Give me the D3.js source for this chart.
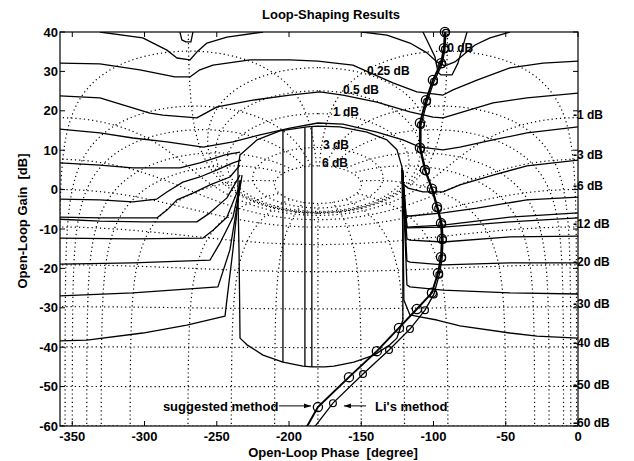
<!DOCTYPE html>
<html>
<head>
<meta charset="utf-8">
<script src="https://cdn.jsdelivr.net/npm/d3@7"></script>
<style>
  body { margin: 0; background: #fff; }
  text { font-family: "Liberation Sans", Arial, Helvetica, sans-serif; font-weight: bold; fill: #000; }
</style>
</head>
<body>
<div id="root"></div>
<script>
const SVG_WIDTH = 634;
const SVG_HEIGHT = 461;

// Nichols grid levels: closed-loop magnitude [dB] and closed-loop phase [deg]
const mLevels = [6, 3, 1, 0.5, 0.25, 0, -1, -3, -6, -12, -20, -30, -40, -50, -60];
const phaseLevels = [-1, -5, -10, -20, -30, -50, -90, -120, -150, -180,
  -210, -240, -270, -310, -330, -340, -350, -355, -359];

const xTicks = [-350, -300, -250, -200, -150, -100, -50, 0];
const yTicks = [40, 30, 20, 10, 0, -10, -20, -30, -40, -50, -60];

// grid labels (text, phase, gain)
const topLabelText = ['0 dB', '0.25 dB', '0.5 dB', '1 dB', '3 dB', '6 dB'];
const topLabelPhase = [-90.5, -146.1, -162.7, -169.6, -176.5, -177.2];
const topLabelGain = [36.0, 30.1, 25.3, 19.7, 11.3, 6.8];
const rightLabelText = ['-1 dB', '-3 dB', '-6 dB', '-12 dB', '-20 dB', '-30 dB', '-40 dB', '-50 dB', '-60 dB'];
const rightLabelGain = [18.9, 8.8, 0.9, -8.7, -18.4, -29.0, -38.9, -49.6, -59.2];

// QFT bounds [phase, gain]
const boundU = [[-275.5, 40], [-274.2, 38.0], [-271.4, 37.5], [-267.9, 37.5], [-266.5, 40]];
const boundV = [[-107.3, 40], [-99.0, 33.7], [-96.9, 29.8], [-94.8, 29.1], [-87.2, 29.1], [-83.1, 32.1], [-76.8, 40]];
const bound1L = [[-330.9, 40], [-301.2, 38.5], [-284.5, 35.4], [-277.6, 33.4], [-268.6, 32.9], [-263.8, 34.9], [-256.8, 37.2], [-243.0, 38.7], [-218.0, 40]];
const bound1R = [[-149.5, 40], [-132.2, 39.2], [-116.3, 37.2], [-104.5, 34.7], [-97.6, 32.4], [-92.1, 31.4], [-85.2, 32.4], [-71.3, 36.7], [-60.9, 38.5], [-47.1, 40]];
const bound2 = [[-360, 32.1], [-330.9, 31.9], [-303.2, 30.4], [-285.9, 29.1], [-279.0, 28.6], [-268.6, 28.6], [-261.7, 30.4], [-252.6, 31.6], [-227.0, 32.9], [-199.4, 32.9], [-180, 32.6], [-155.8, 31.6], [-128.1, 27.1], [-111.5, 24.8], [-93.4, 24.0], [-86.5, 25.3], [-69.9, 27.8], [-47.1, 30.9], [-24.2, 32.1], [0, 32.6]];
const bound3 = [[-360, 23.8], [-330.9, 23.3], [-296.3, 19.4], [-287.3, 18.9], [-263.8, 18.2], [-249.8, 21.0], [-225.0, 22.7], [-199.4, 24.0], [-178.6, 24.8], [-162.7, 24.0], [-139.2, 22.2], [-116.3, 19.7], [-100.4, 18.4], [-93.4, 18.2], [-79.6, 19.7], [-58.8, 22.0], [-35.3, 23.3], [0, 24.5]];
const bound4 = [[-360, 15.4], [-330.9, 14.4], [-308.1, 13.1], [-284.5, 12.1], [-259.5, 10.8], [-238.8, 12.1], [-220.1, 13.9], [-199.4, 15.6], [-180, 16.9], [-162.7, 16.6], [-139.2, 14.6], [-121.2, 12.6], [-109.4, 10.8], [-93.4, 10.1], [-81.7, 10.8], [-58.8, 12.6], [-35.3, 14.4], [0, 15.9]];
const boundCup = [[-184.2, -45.0], [-190.4, -44.8], [-204.2, -43.8], [-218.0, -42.0], [-229.1, -39.4], [-233.9, -37.7], [-234.6, -15.3], [-235.3, -2.6], [-235.3, 5.7], [-233.9, 8.8], [-222.2, 12.6], [-206.3, 14.9], [-187.6, 15.9], [-180, 16.1], [-164.8, 15.9], [-146.1, 14.6], [-132.2, 12.6], [-125.3, 10.1], [-121.8, 5.7], [-121.2, -15.3], [-121.2, -33.1], [-125.3, -37.7], [-130.2, -39.4], [-141.2, -42.0], [-155.1, -43.8], [-168.9, -44.8], [-175.2, -45.0], [-184.2, -45.0]];
const boundBar1 = [[-204.2, 15.1], [-204.2, -43.8]];
const boundBar2 = [[-189.0, 15.9], [-189.0, -44.8]];
const boundBar3 = [[-184.2, 16.1], [-184.2, -45.0]];
const fanL1 = [[-360, 6.8], [-330.9, 6.2], [-308.1, 5.5], [-275.5, 5.5], [-261.7, 6.8], [-244.3, 8.8], [-233.9, 9.5]];
const fanL2 = [[-360, -2.4], [-330.9, -2.6], [-308.1, -3.1], [-291.5, -2.4], [-284.5, -0.6], [-273.5, 1.9], [-261.7, 3.2], [-249.8, 5.0], [-238.8, 6.8], [-233.2, 7.5]];
const fanL3 = [[-360, -7.0], [-330.9, -7.2], [-291.5, -7.2], [-284.5, -5.2], [-277.6, -2.6], [-266.5, -0.9], [-254.7, 1.2], [-240.9, 3.2], [-233.9, 6.2]];
const fanL4 = [[-360, -7.5], [-330.9, -8.0], [-301.2, -8.2], [-263.8, -8.2], [-254.7, -5.9], [-243.0, -2.1], [-233.9, 3.7]];
const fanL5 = [[-360, -12.3], [-308.1, -12.5], [-259.5, -12.3], [-252.6, -10.3], [-243.0, -7.0], [-233.9, 1.2]];
const fanL6 = [[-360, -18.9], [-308.1, -18.6], [-254.7, -17.9], [-247.8, -13.6], [-238.8, -7.0], [-233.2, 2.4]];
const fanL7 = [[-360, -27.0], [-308.1, -26.2], [-249.2, -24.7], [-240.9, -15.3], [-232.5, 3.7]];
const fanL8 = [[-360, -38.4], [-339.9, -38.2], [-301.2, -36.4], [-270.7, -34.4], [-244.3, -32.1], [-243.0, -28.0], [-238.8, -15.3], [-233.9, 2.4]];
const fanR1 = [[0, 7.5], [-35.3, 6.0], [-58.8, 3.7], [-81.7, 1.2], [-93.4, -0.6], [-107.3, -0.6], [-117.7, 0.4], [-121.8, 1.7], [-121.8, 5.5]];
const fanR2 = [[0, -1.9], [-35.3, -2.6], [-69.9, -4.7], [-93.4, -5.9], [-116.3, -6.7], [-120.5, -6.7], [-121.5, 5.0]];
const fanR3 = [[0, -5.9], [-47.1, -7.0], [-93.4, -9.0], [-118.4, -9.5], [-121.5, 5.0]];
const fanR4 = [[0, -7.2], [-47.1, -8.2], [-93.4, -9.5], [-118.4, -9.7], [-121.5, 5.0]];
const fanR5 = [[0, -11.8], [-47.1, -12.0], [-93.4, -13.3], [-116.3, -12.8], [-118.4, -12.5], [-121.5, 5.0]];
const fanR6 = [[0, -18.6], [-47.1, -18.6], [-93.4, -19.1], [-116.3, -18.4], [-118.4, -18.1], [-121.5, 5.0]];
const fanR7 = [[0, -26.5], [-47.1, -26.2], [-93.4, -25.5], [-116.3, -24.7], [-118.4, -24.2], [-121.5, 5.0]];
const fanR8 = [[0, -37.7], [-28.4, -37.2], [-47.1, -36.4], [-81.7, -34.6], [-97.6, -33.1], [-109.4, -32.3], [-116.3, -31.8], [-120.5, -28.0], [-121.5, 5.0]];

// open-loop designs
const suggestedPhase = [-192, -180.0, -158.5, -139.2, -123.9, -111.5, -101.1, -96.9, -94.8, -94.2, -94.8, -97.6, -101.1, -105.9, -109.4, -109.4, -105.2, -100.4, -94.8, -92.8, -92.1];
const suggestedGain = [-63, -55.2, -47.6, -41.0, -35.1, -30.3, -26.2, -21.2, -17.1, -12.5, -8.5, -4.4, 0.2, 5.0, 10.6, 16.9, 22.7, 27.8, 32.1, 35.9, 40.0];
const liPhase = [-186, -169.6, -148.8, -130.8, -116.3, -105.9, -99.8, -96.0, -94.0, -93.4, -94.0, -96.8, -100.4, -105.2, -108.7, -108.7, -104.5, -99.7, -94.1, -92.1, -91.4];
const liGain = [-62, -54.2, -46.8, -40.7, -35.4, -30.6, -26.6, -21.6, -17.4, -12.8, -8.8, -4.8, -0.2, 4.6, 10.2, 16.4, 22.3, 27.4, 31.8, 35.6, 39.8];

function addSvg() {
  const svg = document.createElementNS('http://www.w3.org/2000/svg', 'svg');
  svg.id = 'svg';
  svg.setAttribute('width', SVG_WIDTH);
  svg.setAttribute('height', SVG_HEIGHT);
  return svg;
}

const xScale = d3.scaleLinear().domain([-358.5, 0]).range([60, 578]);
const yScale = d3.scaleLinear().domain([-60, 40]).range([426, 32]);
const line = d3.line().x((d) => xScale(d[0])).y((d) => yScale(d[1]));

// open-loop point from closed-loop T = M e^{j th}
function toNichols(M, th) {
  const a = M * Math.cos(th);
  const b = M * Math.sin(th);
  const den = (1 - a) * (1 - a) + b * b;
  const re = (a - M * M) / den;
  const im = b / den;
  let ph = (Math.atan2(im, re) * 180) / Math.PI;
  if (ph > 0) ph -= 360;
  return [ph, 10 * Math.log10(re * re + im * im)];
}

function splitWraps(pts) {
  const segs = [[]];
  pts.forEach((p, i) => {
    if (i > 0 && Math.abs(p[0] - pts[i - 1][0]) > 90) segs.push([]);
    if (isFinite(p[1])) segs[segs.length - 1].push(p);
  });
  return segs;
}

function mContour(mdb) {
  const M = Math.pow(10, mdb / 20);
  const n = 6000;
  const pts = [];
  for (let i = mdb === 0 ? 1 : 0; i <= (mdb === 0 ? n - 1 : n); i++) {
    pts.push(toNichols(M, (2 * Math.PI * i) / n));
  }
  return splitWraps(pts);
}

function phaseContour(deg) {
  const th = (deg * Math.PI) / 180;
  const n = 4000;
  const pts = [];
  for (let i = 0; i <= n; i++) {
    const mdb = -100 + (106 * i) / n;
    pts.push(toNichols(Math.pow(10, mdb / 20), th));
  }
  return splitWraps(pts);
}

function drawGrid(g) {
  const segs = [];
  mLevels.forEach((m) => segs.push(...mContour(m)));
  phaseLevels.forEach((p) => segs.push(...phaseContour(p)));
  g.append('g')
    .selectAll('path')
    .data(segs.filter((s) => s.length > 1))
    .join('path')
    .attr('d', line)
    .attr('fill', 'none')
    .attr('stroke', '#000')
    .attr('stroke-width', 1.2)
    .attr('stroke-dasharray', '1.2,3');
}

function drawBounds(g) {
  const bounds = [boundU, boundV, bound1L, bound1R, bound2, bound3, bound4, boundCup,
    boundBar1, boundBar2, boundBar3,
    fanL1, fanL2, fanL3, fanL4, fanL5, fanL6, fanL7, fanL8,
    fanR1, fanR2, fanR3, fanR4, fanR5, fanR6, fanR7, fanR8];
  g.append('g')
    .selectAll('path')
    .data(bounds)
    .join('path')
    .attr('d', line)
    .attr('fill', 'none')
    .attr('stroke', '#000')
    .attr('stroke-width', 1.3)
    .attr('stroke-linejoin', 'round');
}

function drawLoops(g, svg) {
  const sug = suggestedPhase.map((p, i) => [p, suggestedGain[i]]);
  const li = liPhase.map((p, i) => [p, liGain[i]]);
  g.append('path').attr('d', line(li)).attr('fill', 'none').attr('stroke', '#000').attr('stroke-width', 1.3);
  g.append('path').attr('d', line(sug)).attr('fill', 'none').attr('stroke', '#000').attr('stroke-width', 2);
  const inView = (d) => d[1] >= -60 && d[1] <= 40;
  svg.append('g')
    .selectAll('circle')
    .data(sug.filter(inView))
    .join('circle')
    .attr('cx', (d) => xScale(d[0]))
    .attr('cy', (d) => yScale(d[1]))
    .attr('r', 4.6)
    .attr('fill', 'none')
    .attr('stroke', '#000')
    .attr('stroke-width', 1.3);
  svg.append('g')
    .selectAll('circle')
    .data(li.filter(inView))
    .join('circle')
    .attr('cx', (d) => xScale(d[0]))
    .attr('cy', (d) => yScale(d[1]))
    .attr('r', 3.4)
    .attr('fill', 'none')
    .attr('stroke', '#000')
    .attr('stroke-width', 1.2);
}

function drawAxes(svg) {
  const [x0, x1] = xScale.range();
  const [y0, y1] = yScale.range();
  const ax = svg.append('g');
  ax.append('rect')
    .attr('x', x0).attr('y', y1).attr('width', x1 - x0).attr('height', y0 - y1)
    .attr('fill', 'none').attr('stroke', '#000').attr('stroke-width', 1.2);
  xTicks.forEach((t) => {
    const px = xScale(t);
    ax.append('line').attr('x1', px).attr('x2', px).attr('y1', y0).attr('y2', y0 - 5).attr('stroke', '#000');
    ax.append('line').attr('x1', px).attr('x2', px).attr('y1', y1).attr('y2', y1 + 5).attr('stroke', '#000');
    ax.append('text').attr('x', px).attr('y', y0 + 15).attr('text-anchor', 'middle')
      .attr('font-size', 13).text(t);
  });
  yTicks.forEach((t) => {
    const py = yScale(t);
    ax.append('line').attr('x1', x0).attr('x2', x0 + 5).attr('y1', py).attr('y2', py).attr('stroke', '#000');
    ax.append('line').attr('x1', x1).attr('x2', x1 - 5).attr('y1', py).attr('y2', py).attr('stroke', '#000');
    ax.append('text').attr('x', x0 - 2).attr('y', py).attr('dy', '0.36em').attr('text-anchor', 'end')
      .attr('font-size', 13).text(t);
  });
  svg.append('text').attr('x', 331).attr('y', 19).attr('text-anchor', 'middle').attr('font-size', 13)
    .text('Loop-Shaping Results');
  svg.append('text').attr('x', 333).attr('y', 457).attr('text-anchor', 'middle').attr('font-size', 13)
    .attr('xml:space', 'preserve').text('Open-Loop Phase  [degree]');
  svg.append('text').attr('transform', 'translate(27,221) rotate(-90)').attr('text-anchor', 'middle')
    .attr('font-size', 13).attr('xml:space', 'preserve').text('Open-Loop Gain  [dB]');
}

function drawLabels(svg) {
  topLabelText.forEach((t, i) => {
    svg.append('text').attr('x', xScale(topLabelPhase[i])).attr('y', yScale(topLabelGain[i]))
      .attr('dy', '0.36em').attr('font-size', 12).text(t);
  });
  rightLabelText.forEach((t, i) => {
    svg.append('text').attr('x', xScale(0) - 5).attr('y', yScale(rightLabelGain[i]))
      .attr('dy', '0.36em').attr('font-size', 12).text(t);
  });
  const defs = svg.append('defs');
  defs.append('marker').attr('id', 'arrow').attr('viewBox', '0 0 10 10').attr('refX', 10).attr('refY', 5)
    .attr('markerWidth', 7).attr('markerHeight', 7).attr('orient', 'auto-start-reverse')
    .append('path').attr('d', 'M0,1.5 L10,5 L0,8.5 Z').attr('fill', '#000');
  const ay = yScale(-54.9);
  svg.append('text').attr('x', xScale(-287.3)).attr('y', ay).attr('dy', '0.36em').attr('font-size', 13)
    .text('suggested method');
  svg.append('line').attr('x1', xScale(-206.9)).attr('x2', xScale(-184.8)).attr('y1', ay).attr('y2', ay)
    .attr('stroke', '#000').attr('marker-end', 'url(#arrow)');
  svg.append('text').attr('x', xScale(-140.5)).attr('y', ay).attr('dy', '0.36em').attr('font-size', 13)
    .text("Li's method");
  svg.append('line').attr('x1', xScale(-146.7)).attr('x2', xScale(-162.0)).attr('y1', ay).attr('y2', ay)
    .attr('stroke', '#000').attr('marker-end', 'url(#arrow)');
}

function main() {
  const svg = d3.select('#svg');
  svg.append('rect').attr('width', SVG_WIDTH).attr('height', SVG_HEIGHT).attr('fill', '#fff');
  svg.append('clipPath').attr('id', 'plot-clip').append('rect')
    .attr('x', 60).attr('y', 32).attr('width', 518).attr('height', 394);
  const g = svg.append('g').attr('clip-path', 'url(#plot-clip)');
  drawGrid(g);
  drawBounds(g);
  drawLoops(g, svg);
  drawLabels(svg);
  drawAxes(svg);
}

const root = document.getElementById('root');
root.appendChild(addSvg());
main();
</script>
</body>
</html>
